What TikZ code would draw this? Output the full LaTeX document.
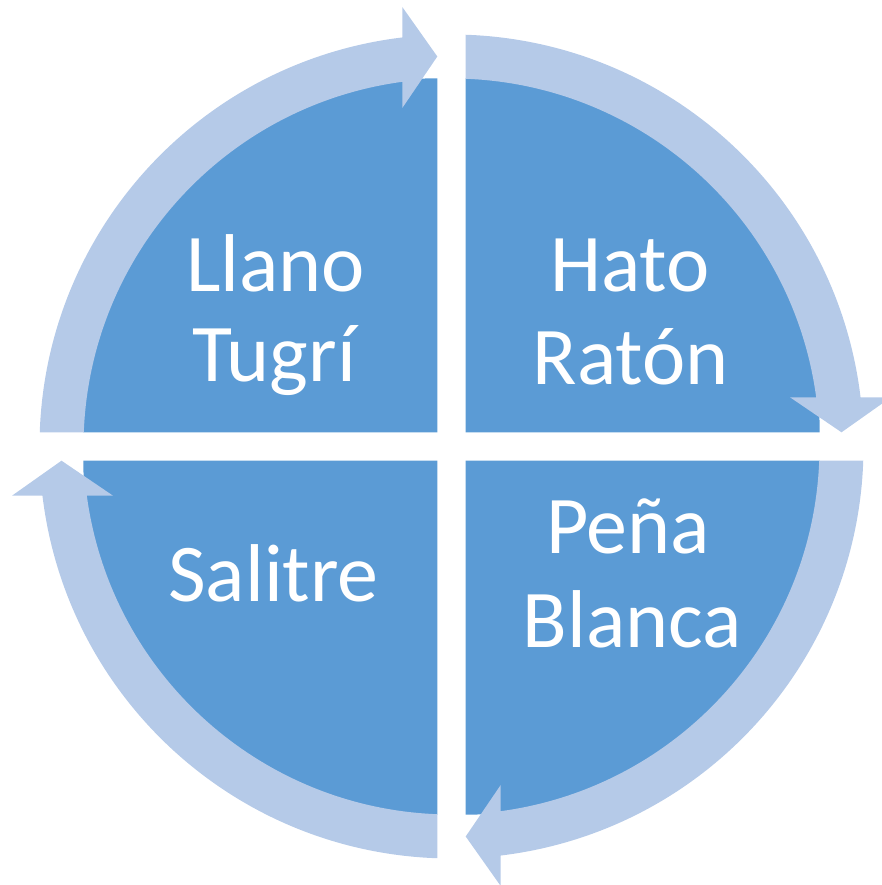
\documentclass[tikz,border=0pt]{standalone}
\usepackage{fontspec}
\setmainfont{Carlito}
\definecolor{quad}{HTML}{5B9BD5}
\definecolor{ringc}{HTML}{B5CAE8}
\tikzset{
  quadfill/.style={fill=quad},
  ringfill/.style={fill=ringc},
  label/.style={text=white, font=\fontsize{82}{90}\selectfont, inner sep=0pt, anchor=base}
}
\begin{document}
\begin{tikzpicture}[x=1pt,y=1pt]
\useasboundingbox (0,0) rectangle (882,885);
\coordinate (C) at (451.5,438.5);
% quadrants
\foreach \r in {0,-90,-180,-270}{
  \begin{scope}[shift={(C)},rotate=\r]
    \fill[quadfill] (-14.2,14.2) -- (-368.2,14.2) arc[start angle=180, end angle=90, radius=354] -- cycle;
  \end{scope}
}
% ring arrows
\foreach \r in {0,-90,-180,-270}{
  \begin{scope}[shift={(C)},rotate=\r]
    \fill[ringfill] (177.789:368) -- (178.025:412)
      arc[start angle=178.025, end angle=96.858, radius=412]
      -- (-49.2,439.5) -- (-14.2,390) -- (-49.2,338.5)
      -- (97.683:368)
      arc[start angle=97.683, end angle=177.789, radius=368] -- cycle;
  \end{scope}
}
% labels
\node[label] (llano) at (275.5,593) {Llano};
\node[label] (tugri) at (274,503) {Tugrí};
\node[label] (hato) at (630,593) {Hato};
\node[label] (raton) at (630.5,500) {Ratón};
\node[label] (salitre) at (273.5,283) {Salitre};
\node[label] (pena) at (628,331) {Peña};
\node[label] (blanca) at (632.5,237) {Blanca};
\end{tikzpicture}
\end{document}
